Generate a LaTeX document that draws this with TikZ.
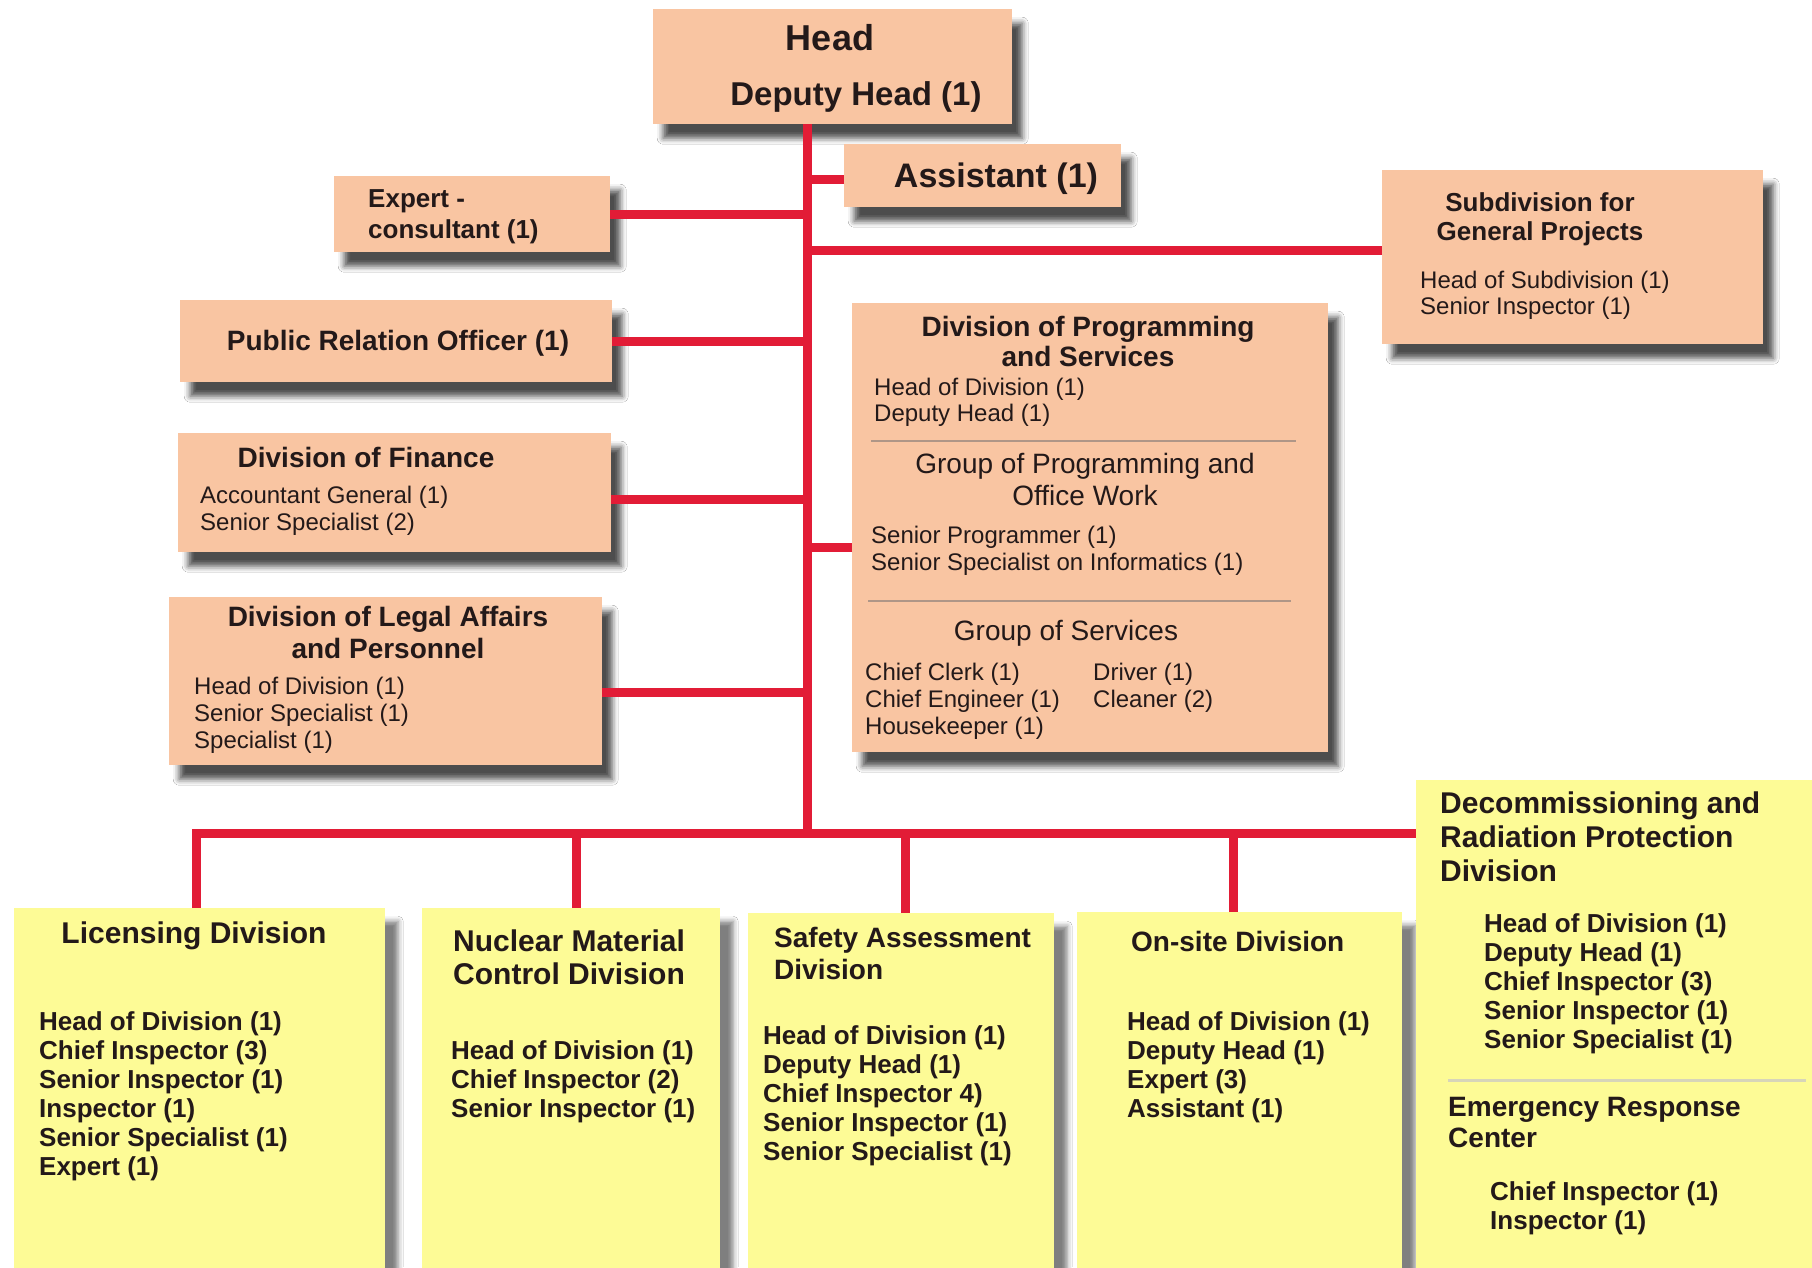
\documentclass[tikz,border=0pt]{standalone}
\usepackage{fontspec}
\setmainfont{Liberation Sans}
\usetikzlibrary{shadows.blur}
\definecolor{salmon}{RGB}{249,197,162}
\definecolor{yel}{RGB}{253,251,150}
\definecolor{redline}{RGB}{226,28,54}
\definecolor{ink}{RGB}{35,25,25}
\definecolor{divline}{RGB}{175,150,135}
\definecolor{divlight}{RGB}{215,213,185}
\newcommand\fsz[2]{\fontsize{#1}{#2}\selectfont}
\newcommand\asc{\rule{0pt}{0.73em}}
\begin{document}
\begin{tikzpicture}[x=1pt,y=-1pt,
  sbox/.style={fill=salmon, draw=none, inner sep=0pt, anchor=north west,
    blur shadow={shadow xshift=10pt, shadow yshift=-14pt, shadow blur radius=6pt, shadow opacity=70}},
  ybox/.style={fill=yel, draw=none, inner sep=0pt, anchor=north west,
    blur shadow={shadow xshift=13pt, shadow yshift=-13pt, shadow blur radius=5pt, shadow opacity=50}},
  conn/.style={draw=redline, line width=9pt},
  txt/.style={inner sep=0pt, text=ink, align=left},
  ctxt/.style={inner sep=0pt, text=ink, align=center},
  bT/.style={font=\bfseries\fsz{30}{33}},
  bI/.style={font=\bfseries\fsz{26}{29}},
  rI/.style={font=\fsz{24}{26}},
  rIx/.style={font=\fsz{24}{27}},
  divider/.style={draw=divline, line width=1.5pt}
]
\fill[white] (0,0) rectangle (1812,1267);
\useasboundingbox (0,0) rectangle (1812,1267);

% ---------- salmon boxes ----------
\node[sbox, minimum width=359pt, minimum height=115pt] (head) at (653,9) {};
\node[sbox, minimum width=277pt, minimum height=63pt] (assist) at (844,144) {};
\node[sbox, minimum width=276pt, minimum height=76pt] (expert) at (334,176) {};
\node[sbox, minimum width=381pt, minimum height=174pt] (subdiv) at (1382,170) {};
\node[sbox, minimum width=432pt, minimum height=82pt] (pro) at (180,300) {};
\node[sbox, minimum width=476pt, minimum height=449pt] (prog) at (852,303) {};
\node[sbox, minimum width=433pt, minimum height=119pt] (fin) at (178,433) {};
\node[sbox, minimum width=433pt, minimum height=168pt] (legal) at (169,597) {};

% ---------- yellow boxes ----------
\node[ybox, minimum width=371pt, minimum height=380pt] (lic) at (14,908) {};
\node[ybox, minimum width=298pt, minimum height=380pt] (nuc) at (422,908) {};
\node[ybox, minimum width=306pt, minimum height=375pt] (safe) at (748,913) {};
\node[ybox, minimum width=325pt, minimum height=376pt] (onsite) at (1077,912) {};
\node[ybox, minimum width=396pt, minimum height=500pt] (decom) at (1416,780) {};

% ---------- connectors ----------
\coordinate (ttop) at (807,0 |- head.south);
\coordinate (tbot) at (807,833);
\draw[conn] (ttop) -- (tbot);
\draw[conn] ([yshift=-4pt]assist.west) -- ([yshift=-4pt]assist.west -| ttop);
\draw[conn] (expert.east) -- (expert.east -| ttop);
\draw[conn] ([yshift=7pt]subdiv.west) -- ([yshift=7pt]subdiv.west -| ttop);
\draw[conn] (pro.east) -- (pro.east -| ttop);
\draw[conn] ([yshift=-20pt]prog.west) -- ([yshift=-20pt]prog.west -| ttop);
\draw[conn] ([yshift=-7pt]fin.east) -- ([yshift=-7pt]fin.east -| ttop);
\draw[conn] ([yshift=-11pt]legal.east) -- ([yshift=-11pt]legal.east -| ttop);
\draw[conn, line join=miter] ([xshift=-3pt]lic.north) -- ([xshift=-3pt]lic.north |- tbot) -- (tbot -| decom.west);
\draw[conn] ([xshift=5pt]nuc.north) -- ([xshift=5pt]nuc.north |- tbot);
\draw[conn] ([xshift=4pt]safe.north) -- ([xshift=4pt]safe.north |- tbot);
\draw[conn] ([xshift=-6pt]onsite.north) -- ([xshift=-6pt]onsite.north |- tbot);

% ---------- dividers ----------
\coordinate (d1a) at (871,441); \coordinate (d1b) at (1296,441);
\coordinate (d2a) at (868,601); \coordinate (d2b) at (1291,601);
\coordinate (d3a) at (1448,1080); \coordinate (d3b) at (1806,1080);
\draw[divider] (d1a) -- (d1b);
\draw[divider] (d2a) -- (d2b);
\draw[draw=divlight, line width=3pt] (d3a) -- (d3b);

% ---------- texts: top ----------
\node[txt, anchor=base, font=\bfseries\fsz{36}{40}] (tHead) at (830,50) {Head};
\node[txt, anchor=base, font=\bfseries\fsz{33}{36}] (tDep) at (856,105) {Deputy Head (1)};
\node[txt, anchor=base, font=\bfseries\fsz{34}{36}] (tAss) at (996,187) {Assistant (1)};
\node[txt, anchor=north west, font=\bfseries\fsz{26}{31}] (tExp) at (368,188) {\asc Expert -\\consultant (1)};
\node[txt, anchor=base, font=\bfseries\fsz{28}{30}] (tPro) at (398,350) {Public Relation Officer (1)};

\node[ctxt, anchor=north, font=\bfseries\fsz{26}{29}] (tSubT) at (1540,192) {\asc Subdivision for\\General Projects};
\node[txt, anchor=north west, rI] (tSubI) at (1420,270.5) {\asc Head of Subdivision (1)\\Senior Inspector (1)};

\node[ctxt, anchor=north, font=\bfseries\fsz{28}{30}] (tProgT) at (1088,315.5) {\asc Division of Programming\\and Services};
\node[txt, anchor=north west, rI] (tProgI) at (874,378) {\asc Head of Division (1)\\Deputy Head (1)};
\node[ctxt, anchor=north, font=\fsz{28}{32}] (tGrpP) at (1085,452.5) {\asc Group of Programming and\\Office Work};
\node[txt, anchor=north west, rIx] (tGrpPI) at (871,525.5) {\asc Senior Programmer (1)\\Senior Specialist on Informatics (1)};
\node[txt, anchor=base, font=\fsz{28}{32}] (tGrpS) at (1066,640) {Group of Services};
\node[txt, anchor=north west, rIx] (tGrpS1) at (865,662.5) {\asc Chief Clerk (1)\\Chief Engineer (1)\\Housekeeper (1)};
\node[txt, anchor=north west, rIx] (tGrpS2) at (1093,662.5) {\asc Driver (1)\\Cleaner (2)};

\node[txt, anchor=base, font=\bfseries\fsz{28}{30}] (tFinT) at (366,467) {Division of Finance};
\node[txt, anchor=north west, rIx] (tFinI) at (200,485.5) {\asc Accountant General (1)\\Senior Specialist (2)};

\node[ctxt, anchor=north, font=\bfseries\fsz{28}{32}] (tLegT) at (388,605.5) {\asc Division of Legal Affairs\\and Personnel};
\node[txt, anchor=north west, rIx] (tLegI) at (194,677) {\asc Head of Division (1)\\Senior Specialist (1)\\Specialist (1)};

% ---------- texts: bottom ----------
\node[txt, anchor=base, font=\bfseries\fsz{30}{33}] (tLicT) at (194,943) {Licensing Division};
\node[txt, anchor=north west, bI] (tLicI) at (39,1011) {\asc Head of Division (1)\\Chief Inspector (3)\\Senior Inspector (1)\\Inspector (1)\\Senior Specialist (1)\\Expert (1)};

\node[txt, anchor=north west, bT] (tNucT) at (453,929) {\asc Nuclear Material\\Control Division};
\node[txt, anchor=north west, bI] (tNucI) at (451,1040) {\asc Head of Division (1)\\Chief Inspector (2)\\Senior Inspector (1)};

\node[txt, anchor=north west, font=\bfseries\fsz{28}{32}] (tSafT) at (774,926.6) {\asc Safety Assessment\\Division};
\node[txt, anchor=north west, bI] (tSafI) at (763,1025) {\asc Head of Division (1)\\Deputy Head (1)\\Chief Inspector 4)\\Senior Inspector (1)\\Senior Specialist (1)};

\node[txt, anchor=base west, font=\bfseries\fsz{28}{31}] (tOnT) at (1131,951.5) {On-site Division};
\node[txt, anchor=north west, bI] (tOnI) at (1127,1011) {\asc Head of Division (1)\\Deputy Head (1)\\Expert (3)\\Assistant (1)};

\node[txt, anchor=north west, font=\bfseries\fsz{30}{34}] (tDecT) at (1440,791) {\asc Decommissioning and\\Radiation Protection\\Division};
\node[txt, anchor=north west, bI] (tDecI) at (1484,913) {\asc Head of Division (1)\\Deputy Head (1)\\Chief Inspector (3)\\Senior Inspector (1)\\Senior Specialist (1)};
\node[txt, anchor=north west, font=\bfseries\fsz{28}{31}] (tErcT) at (1448,1096) {\asc Emergency Response\\Center};
\node[txt, anchor=north west, font=\bfseries\fsz{26}{29}] (tErcI) at (1490,1181) {\asc Chief Inspector (1)\\Inspector (1)};
\end{tikzpicture}
\end{document}
